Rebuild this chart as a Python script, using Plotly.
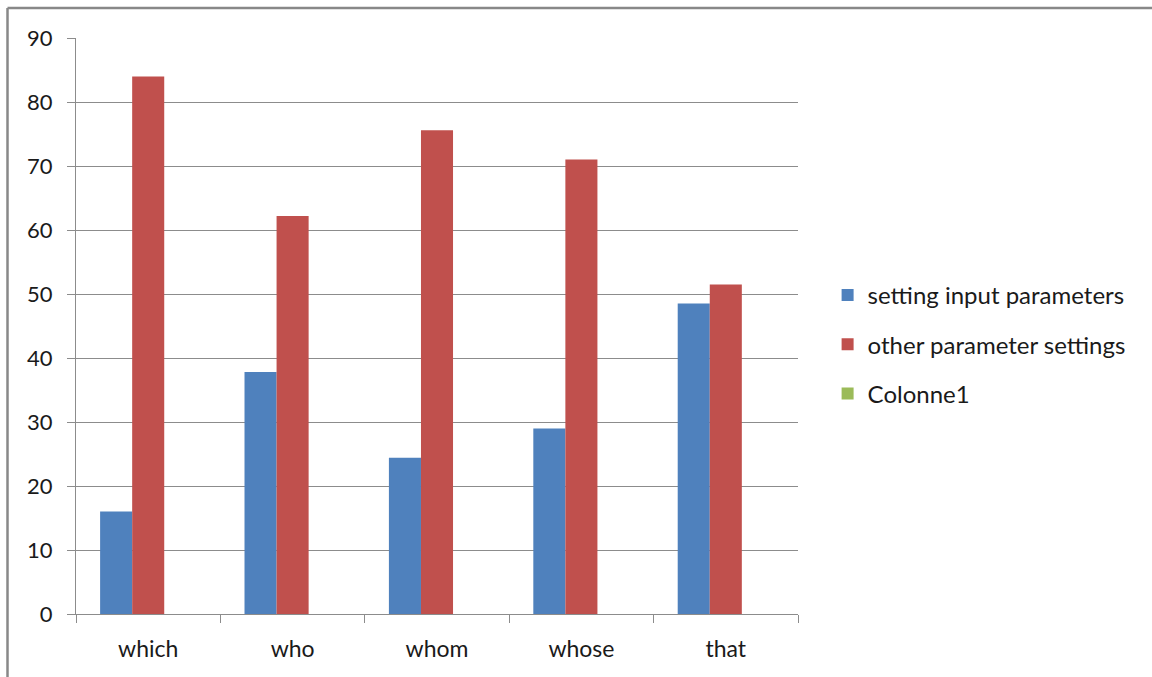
import plotly.graph_objects as go

categories = ["which", "who", "whom", "whose", "that"]
setting_input = [16.0, 37.8, 24.4, 29.0, 48.5]
other_settings = [84.0, 62.2, 75.6, 71.0, 51.5]
colonne1 = [None, None, None, None, None]
y_ticks = [0, 10, 20, 30, 40, 50, 60, 70, 80, 90]

FONT = "Lato"
GRID = "#8c8c8c"
bar_w = 0.222

fig = go.Figure()
fig.add_trace(go.Bar(x=categories, y=setting_input, name="setting input parameters",
                     marker=dict(color="#4f81bd", line=dict(width=0)),
                     width=bar_w, offset=-1.5 * bar_w, legendgroup="a"))
fig.add_trace(go.Bar(x=categories, y=other_settings, name="other parameter settings",
                     marker=dict(color="#c0504d", line=dict(width=0)),
                     width=bar_w, offset=-0.5 * bar_w, legendgroup="b"))
fig.add_trace(go.Bar(x=categories, y=colonne1, name="Colonne1",
                     marker=dict(color="#9bbb59", line=dict(width=0)),
                     width=bar_w, offset=0.5 * bar_w, legendgroup="c"))

fig.update_layout(
    width=1152, height=677,
    margin=dict(l=76, r=354, t=38, b=63),
    paper_bgcolor="white", plot_bgcolor="white",
    font=dict(family=FONT, size=23, color="#1a1a1a"),
    showlegend=True,
    legend=dict(x=1.041, y=0.592, xanchor="left", yanchor="top",
                font=dict(family=FONT, size=24, color="#1a1a1a"),
                tracegroupgap=15, itemwidth=30, traceorder="grouped"),
    xaxis=dict(showline=True, linecolor=GRID, linewidth=1,
               ticks="outside", ticklen=8, tickcolor=GRID, tickson="boundaries",
               showgrid=False, tickfont=dict(size=23), ticklabelstandoff=14,
               fixedrange=True),
    yaxis=dict(range=[0, 90], tickvals=y_ticks, showline=True, linecolor=GRID, linewidth=1,
               ticks="outside", ticklen=8, tickcolor=GRID,
               showgrid=True, gridcolor=GRID, gridwidth=1, zeroline=False,
               tickfont=dict(size=22), ticklabelstandoff=10),
    shapes=[
        dict(type="line", xref="paper", yref="paper",
             x0=(7.5 - 76) / 722, x1=(1152 - 76) / 722,
             y0=(614 - 8) / 576, y1=(614 - 8) / 576,
             line=dict(color="#888888", width=2.5)),
        dict(type="line", xref="paper", yref="paper",
             x0=(7.5 - 76) / 722, x1=(7.5 - 76) / 722,
             y0=(614 - 8) / 576, y1=(614 - 680) / 576,
             line=dict(color="#888888", width=2.5)),
    ],
)

fig.write_html("out.html")
